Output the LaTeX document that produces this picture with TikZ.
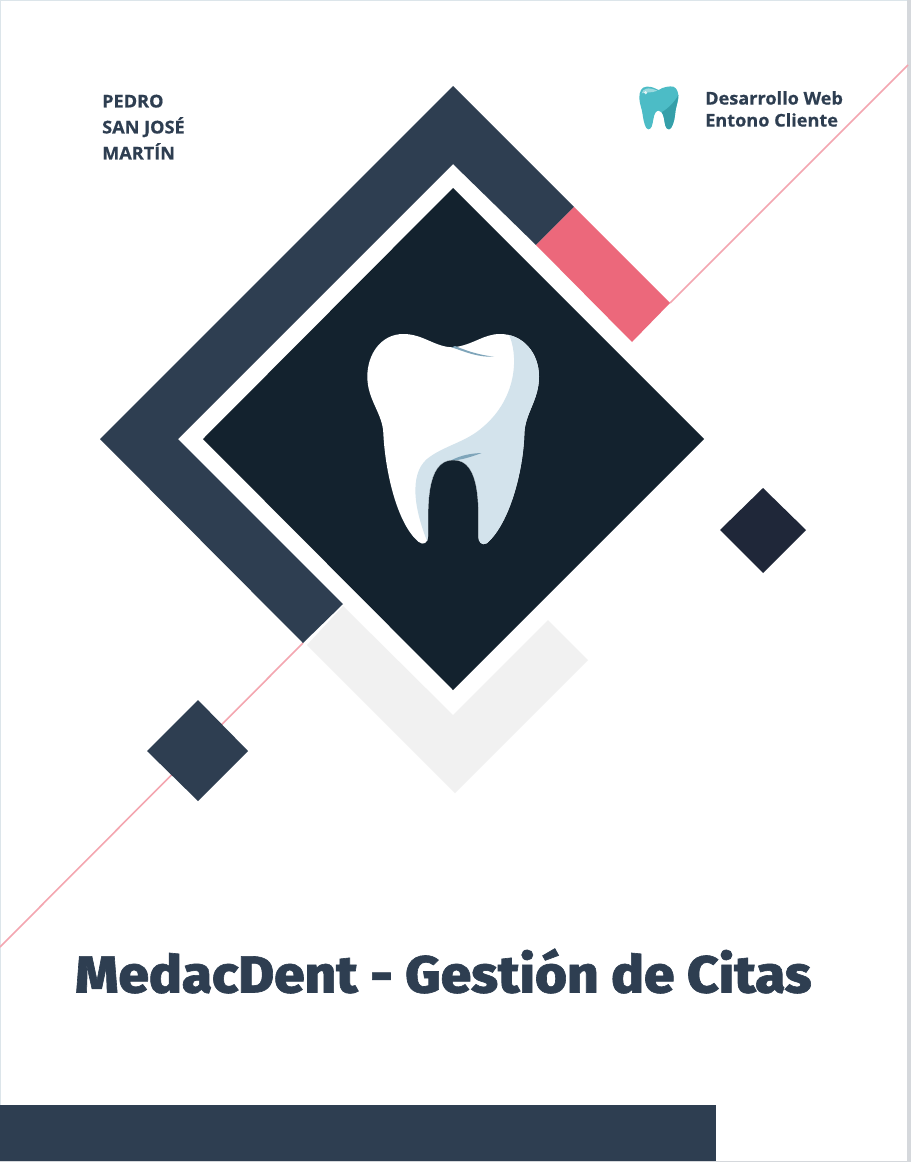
\documentclass[tikz,border=0pt]{standalone}
\usepackage{fontspec}
\setmainfont[BoldFeatures={FakeBold=0.5,FakeStretch=1.03}]{Open Sans}
\newfontfamily\titlefont[FakeStretch=1.055,FakeBold=1.2]{Fira Sans ExtraBold}
\definecolor{navy}{HTML}{2E3E51}
\definecolor{core}{HTML}{13222E}
\definecolor{coral}{HTML}{EC687B}
\definecolor{rose}{HTML}{F4A6B0}
\definecolor{pale}{HTML}{F1F1F1}
\definecolor{ink}{HTML}{1F2739}
\definecolor{toothshade}{HTML}{D3E3EC}
\definecolor{streak}{HTML}{7FA5BA}
\definecolor{teal}{HTML}{4CBCC6}
\definecolor{tealdark}{HTML}{359FA9}
\definecolor{edgec}{HTML}{DCE5EA}
\definecolor{edger}{HTML}{D5D8DC}
\tikzset{
  smalltext/.style={text=navy, align=left, anchor=north west, inner sep=0pt},
  titletext/.style={font=\titlefont\fontsize{52}{60}\selectfont, text=navy, anchor=west, inner sep=0pt},
  rosetrace/.style={draw=rose, line width=1.6pt}
}
\newcommand{\toothpath}{(340,112) .. controls (400,105) and (430,72) .. (480,72)
 .. controls (550,72) and (597,130) .. (597,200)
 .. controls (597,270) and (555,310) .. (553,370)
 .. controls (550,480) and (510,640) .. (440,700)
 .. controls (425,708) and (415,695) .. (415,680)
 .. controls (415,600) and (425,450) .. (340,450)
 .. controls (255,450) and (265,600) .. (264,680)
 .. controls (264,698) and (250,708) .. (235,695)
 .. controls (170,640) and (135,480) .. (130,370)
 .. controls (128,310) and (82,270) .. (82,200)
 .. controls (82,130) and (125,72) .. (190,72)
 .. controls (250,72) and (285,112) .. (340,112) -- cycle}
\begin{document}
\begin{tikzpicture}[x=1pt,y=-1pt]
\useasboundingbox (0,0) rectangle (911,1162);
\fill[white] (0,0) rectangle (911,1162);
% page edges
\fill[edgec] (0,0) rectangle (908,1);
\fill[edgec] (0,0) rectangle (1,1162);
\fill[edger] (907,0) rectangle (911,1162);
\fill[edger] (0,1160.5) rectangle (911,1162);
% rose trace
\coordinate (traceA) at (908,65);
\coordinate (traceB) at (0,947);
\coordinate (traceC) at (670,303);
\coordinate (traceD) at (303,643);
\draw[rosetrace] (traceA) -- (traceC);
\draw[rosetrace] (traceD) -- (traceB);
% pale chevron
\fill[pale] (307,645) -- (343,606) -- (453,715) -- (548,620) -- (588,660) -- (455,793) -- cycle;
% navy chevron
\fill[navy] (453,86) -- (574,207) -- (536,245) -- (453,164) -- (178,439) -- (343,604) -- (303,643) -- (100,439) -- cycle;
\fill[coral] (574,207) -- (670,303) -- (632,342) -- (536,245) -- cycle;
% core
\fill[core] (453,188) -- (704,439) -- (453,690) -- (203,439) -- cycle;
% small diamonds
\fill[ink] (763,488) -- (806,530) -- (763,573) -- (720,530) -- cycle;
\fill[navy] (198,700) -- (248,751) -- (198,801) -- (147,751) -- cycle;
% big tooth
\begin{scope}[shift={(340,310)},x=0.33333pt,y=-0.33333pt]
 \fill[white] \toothpath;
 \begin{scope}
  \clip \toothpath;
  \fill[toothshade] (505,70) .. controls (535,130) and (535,260) .. (430,350)
    .. controls (380,395) and (320,405) .. (270,440)
    .. controls (210,480) and (215,580) .. (264,700)
    -- (620,720) -- (620,60) -- cycle;
  \fill[core] (340,450) .. controls (255,450) and (265,600) .. (264,680) -- (264,720) -- (415,720) -- (415,680) .. controls (415,600) and (425,450) .. (340,450) -- cycle;
 \end{scope}
 \fill[streak] (335,112) .. controls (375,125) and (410,142) .. (462,140) .. controls (410,134) and (375,120) .. (345,108) -- cycle;
 \fill[streak] (335,450) .. controls (365,435) and (395,430) .. (425,429) .. controls (395,440) and (370,448) .. (350,450) -- cycle;
\end{scope}
% small tooth
\begin{scope}[shift={(620,60)},x=0.33333pt,y=-0.33333pt]
 \fill[teal] (116,90) .. controls (130,80) and (150,78) .. (160,80)
   .. controls (172,84) and (176,100) .. (175,115)
   .. controls (172,135) and (166,145) .. (165,165)
   .. controls (163,185) and (155,208) .. (147,208)
   .. controls (135,208) and (135,190) .. (132,175)
   .. controls (128,158) and (122,152) .. (116,152)
   .. controls (108,152) and (103,160) .. (100,178)
   .. controls (97,195) and (95,208) .. (85,208)
   .. controls (76,208) and (71,185) .. (68,165)
   .. controls (66,145) and (59,135) .. (58,115)
   .. controls (57,95) and (65,80) .. (80,80)
   .. controls (95,79) and (105,85) .. (116,90) -- cycle;
 \fill[tealdark] (175,105) .. controls (172,135) and (166,145) .. (165,165)
   .. controls (163,185) and (155,208) .. (147,208)
   .. controls (135,208) and (135,190) .. (132,175)
   .. controls (130,165) and (128,160) .. (125,157)
   .. controls (145,145) and (165,125) .. (175,105) -- cycle;
 \fill[white,opacity=0.45] (65,100) .. controls (68,85) and (85,80) .. (112,92) .. controls (95,100) and (80,95) .. (65,100) -- cycle;
 \fill[white,opacity=0.8] (77,98) circle[radius=5];
\end{scope}
% text
\node[smalltext,font=\fontsize{17.6}{26}\selectfont\bfseries] (author) at (102,94.5) {PEDRO\\SAN JOSÉ\\MARTÍN};
\node[smalltext,font=\fontsize{17.6}{22}\selectfont\bfseries] (course) at (705,91) {Desarrollo Web\\Entono Cliente};
\node[titletext] (title) at (75,971) {MedacDent - Gestión de Citas};
% bar
\fill[navy] (0,1105) rectangle (716,1161);
\end{tikzpicture}
\end{document}
